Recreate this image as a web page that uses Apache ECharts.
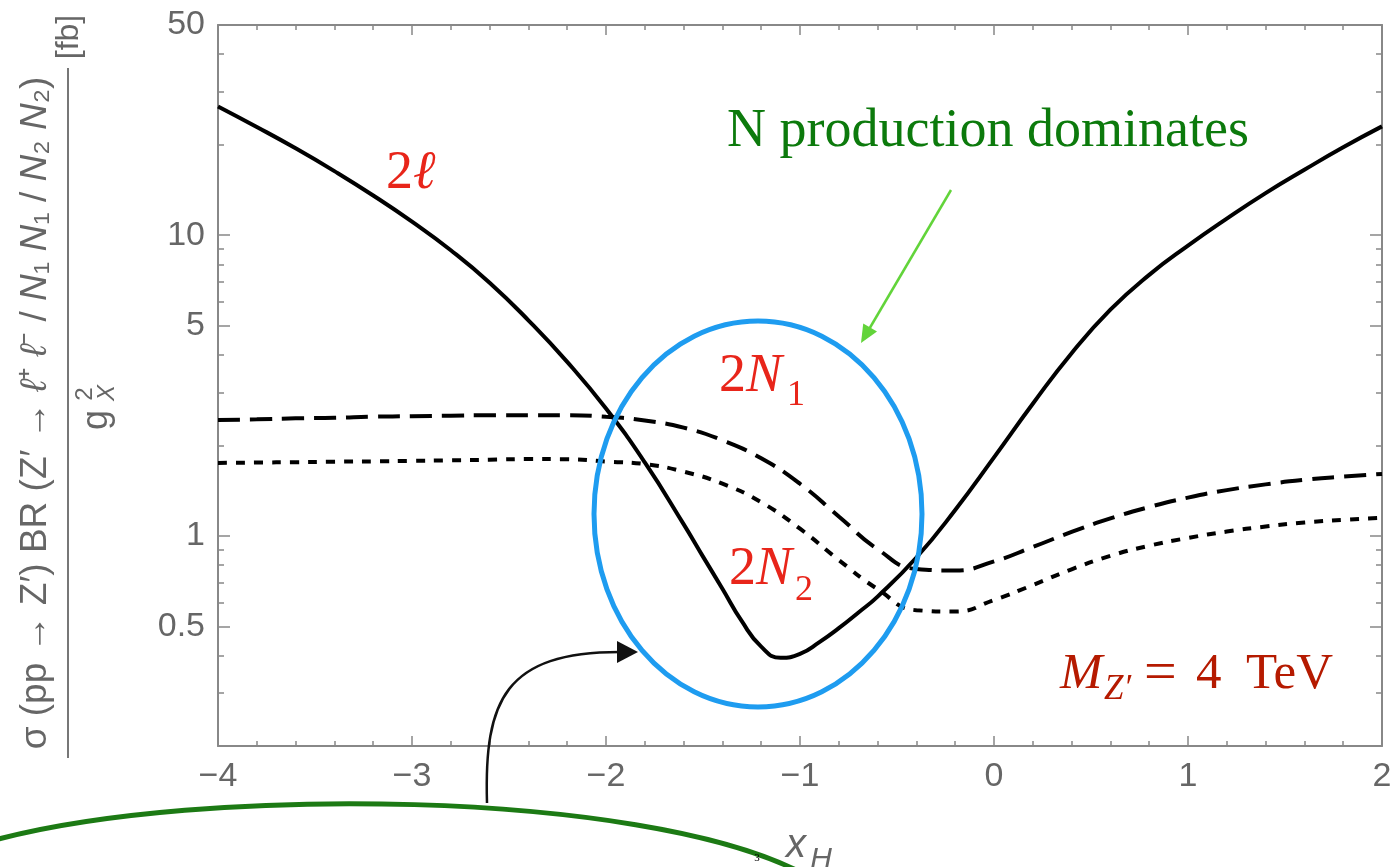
<!DOCTYPE html>
<html><head><meta charset="utf-8">
<script src="https://cdn.jsdelivr.net/npm/echarts@6/dist/echarts.min.js"></script>
<style>html,body{margin:0;padding:0;background:#fff}#c{width:1395px;height:867px}</style>
</head><body><div id="c"></div>
<script>
// ---- data ----
const xSolid = [-4, -3.8, -3.6, -3.4, -3.2, -3.0, -2.8, -2.6, -2.4, -2.2, -2.0, -1.8, -1.6, -1.5, -1.4, -1.3, -1.2, -1.1, -1.0, -0.9, -0.8, -0.7, -0.6, -0.4, -0.2, 0, 0.2, 0.4, 0.6, 0.8, 1.0, 1.2, 1.4, 1.6, 1.8, 2.0];
const ySolid = [26.8, 22.9, 19.45, 16.33, 13.55, 11.09, 8.91, 6.95, 5.21, 3.79, 2.65, 1.754, 1.094, 0.853, 0.667, 0.520, 0.428, 0.393, 0.405, 0.443, 0.493, 0.555, 0.628, 0.847, 1.219, 1.824, 2.75, 4.05, 5.65, 7.38, 9.23, 11.35, 13.8, 16.5, 19.6, 23.0];
const xGrid = [-4, -3.8, -3.6, -3.4, -3.2, -3.0, -2.8, -2.6, -2.4, -2.2, -2.0, -1.8, -1.6, -1.4, -1.2, -1.0, -0.8, -0.6, -0.4, -0.2, 0, 0.2, 0.4, 0.6, 0.8, 1.0, 1.2, 1.4, 1.6, 1.8, 2.0];
const yDashed = [2.43, 2.44, 2.46, 2.47, 2.49, 2.50, 2.51, 2.52, 2.52, 2.52, 2.49, 2.42, 2.29, 2.08, 1.81, 1.49, 1.16, 0.903, 0.776, 0.767, 0.822, 0.918, 1.030, 1.143, 1.247, 1.340, 1.419, 1.483, 1.535, 1.574, 1.607];
const yDotted = [1.748, 1.753, 1.758, 1.764, 1.769, 1.775, 1.783, 1.791, 1.80, 1.798, 1.767, 1.732, 1.635, 1.491, 1.293, 1.056, 0.831, 0.665, 0.566, 0.560, 0.612, 0.686, 0.774, 0.858, 0.927, 0.984, 1.033, 1.074, 1.107, 1.130, 1.148];

const xMin = -4, xMax = 2, xStep = 1;
const yMin = 0.2, yMax = 50;
const yLabelValues = [0.5, 1, 5, 10, 50];
const yMajorTicks = [0.5, 1, 5, 10];
const yMinorTicks = [0.3, 0.4, 0.6, 0.7, 0.8, 0.9, 2, 3, 4, 6, 7, 8, 9, 20, 30, 40];

const zip = (xs, ys) => xs.map((x, i) => [x, ys[i]]);

const GRAY = '#888';
const LBL = '#666';
const SANS = '"Liberation Sans", Arial, sans-serif';
const SERIF = '"Liberation Serif", "Times New Roman", serif';
const RED = '#e8251a';
const DRED = '#b51a00';

function xAxisDef(pos, labels) {
  return {
    type: 'value', min: xMin, max: xMax, interval: xStep, position: pos,
    axisLine: { show: true, onZero: false, lineStyle: { color: GRAY, width: 2 } },
    axisTick: { show: true, inside: true, length: 10, lineStyle: { color: GRAY, width: 1.5 } },
    minorTick: { show: true, splitNumber: 5, length: 5, lineStyle: { color: GRAY, width: 1.5 } },
    splitLine: { show: false }, minorSplitLine: { show: false },
    axisLabel: {
      show: labels, color: LBL, fontSize: 34, fontFamily: SANS, margin: 14,
      formatter: v => (v < 0 ? '\u2212' + Math.abs(v) : String(v))
    }
  };
}
function yAxisDef(pos, ticks, len, labels, line) {
  return {
    type: 'log', logBase: 10, min: yMin, max: yMax, position: pos,
    axisLine: { show: line, onZero: false, lineStyle: { color: GRAY, width: 2 } },
    axisTick: { show: true, inside: true, length: len, customValues: ticks, lineStyle: { color: GRAY, width: 1.5 } },
    splitLine: { show: false },
    axisLabel: labels ? { show: true, customValues: yLabelValues, color: LBL, fontSize: 34, fontFamily: SANS, margin: 13 } : { show: false }
  };
}

function arrowHead(x1, y1, x2, y2, len, half, color) {
  const dx = x2 - x1, dy = y2 - y1, L = Math.hypot(dx, dy);
  const ux = dx / L, uy = dy / L, px = -uy, py = ux;
  const bx = x2 - ux * len, by = y2 - uy * len;
  return { type: 'polygon', z: 20, shape: { points: [[x2, y2], [bx + px * half, by + py * half], [bx - px * half, by - py * half]] }, style: { fill: color } };
}
function txt(x, y, text, size, family, color, italic, align, rotation) {
  const o = { type: 'text', z: 20, x, y, style: { text, fontSize: size, fontFamily: family, fill: color, fontStyle: italic ? 'italic' : 'normal', align: align || 'left', verticalAlign: 'middle' } };
  if (rotation) o.rotation = rotation;
  return o;
}
const richRed = { r: { fontSize: 54, fontFamily: SERIF, fill: RED }, i: { fontSize: 54, fontFamily: SERIF, fontStyle: 'italic', fill: RED } };

const rot = Math.PI / 2;
const graphics = [
  // hand-drawn annotations
  { type: 'ellipse', z: 15, shape: { cx: 758, cy: 514, rx: 164, ry: 193 }, style: { fill: 'rgba(0,0,0,0)', stroke: '#1e9cf0', lineWidth: 5 } },
  { type: 'line', z: 15, shape: { x1: 951, y1: 190, x2: 868, y2: 331 }, style: { stroke: '#62d43a', lineWidth: 2.5 } },
  arrowHead(951, 190, 861, 343, 18, 8, '#62d43a'),
  { type: 'bezierCurve', z: 15, shape: { x1: 487, y1: 803, cpx1: 484, cpy1: 700, cpx2: 505, cpy2: 652, x2: 620, y2: 652 }, style: { stroke: '#111', lineWidth: 2.5, fill: 'rgba(0,0,0,0)' } },
  arrowHead(600, 652, 638, 652, 21, 11, '#111'),
  { type: 'bezierCurve', z: 15, shape: { x1: -5, y1: 840, cpx1: 200, cpy1: 785, cpx2: 640, cpy2: 790, x2: 800, y2: 872 }, style: { stroke: '#1c7a14', lineWidth: 5, fill: 'rgba(0,0,0,0)' } },
  txt(757, 858, '3', 11, SERIF, '#000', false, 'center'),

  // curve labels
  { type: 'text', z: 20, x: 386, y: 174, style: { text: '{r|2}{i|\u2113}', align: 'left', verticalAlign: 'middle', rich: richRed } },
  { type: 'text', z: 20, x: 719, y: 377, style: { text: '{r|2}{i|N}', align: 'left', verticalAlign: 'middle', rich: richRed } },
  txt(787, 396, '1', 36, SERIF, RED, false),
  { type: 'text', z: 20, x: 729, y: 570, style: { text: '{r|2}{i|N}', align: 'left', verticalAlign: 'middle', rich: richRed } },
  txt(795, 591, '2', 36, SERIF, RED, false),

  txt(727, 132, 'N production dominates', 54, SERIF, '#0c7a0c', false),

  txt(1060, 675, 'M', 51, SERIF, DRED, true),
  txt(1104, 690, 'Z\u2032', 35, SERIF, DRED, true),
  txt(1144, 675, '=', 58, SERIF, DRED, false),
  txt(1196, 675, '4', 51, SERIF, DRED, false),
  txt(1246, 675, 'TeV', 51, SERIF, DRED, false),

  // x-axis title
  txt(796, 846, 'x', 40, SANS, LBL, true, 'center'),
  txt(821, 860, 'H', 30, SANS, LBL, true, 'center'),

  // y-axis title (rotated fraction)
  { type: 'text', z: 20, x: 36, y: 413, rotation: rot, style: {
      text: '{n|\u03c3 (pp \u2192 Z\u2032) BR (Z\u2032 \u2192 }{i|\u2113}{n|\u207a }{i|\u2113}{n|\u207b / }{i|N}{n|\u2081 }{i|N}{n|\u2081 / }{i|N}{n|\u2082 }{i|N}{n|\u2082)}',
      align: 'center', verticalAlign: 'middle',
      rich: { n: { fontSize: 37, fontFamily: SANS, fill: LBL }, i: { fontSize: 37, fontFamily: SANS, fontStyle: 'italic', fill: LBL } } } },
  { type: 'line', z: 20, shape: { x1: 68, y1: 68, x2: 68, y2: 758 }, style: { stroke: '#777', lineWidth: 2 } },
  txt(69, 37, '[fb]', 32, SANS, LBL, false, 'center', rot),
  txt(97, 420, 'g', 36, SANS, LBL, false, 'center', rot),
  txt(85, 394, '2', 24, SANS, LBL, false, 'center', rot),
  txt(107, 393, 'X', 24, SANS, LBL, true, 'center', rot)
];

const chart = echarts.init(document.getElementById('c'), null, { renderer: 'canvas' });
chart.setOption({
  backgroundColor: '#fff',
  animation: false,
  grid: { left: 218, right: 13, top: 25, bottom: 121, containLabel: false },
  xAxis: [xAxisDef('bottom', true), xAxisDef('top', false)],
  yAxis: [
    yAxisDef('left', yMajorTicks, 12, true, true),
    yAxisDef('left', yMinorTicks, 6, false, false),
    yAxisDef('right', yMajorTicks, 12, false, true),
    yAxisDef('right', yMinorTicks, 6, false, false)
  ],
  series: [
    { name: '2l', type: 'line', xAxisIndex: 0, yAxisIndex: 0, data: zip(xSolid, ySolid), showSymbol: false, smooth: 0.5, lineStyle: { color: '#000', width: 4 }, z: 5 },
    { name: '2N1', type: 'line', xAxisIndex: 0, yAxisIndex: 0, data: zip(xGrid, yDashed), showSymbol: false, smooth: 0.5, lineStyle: { color: '#000', width: 4, type: [22, 10] }, z: 5 },
    { name: '2N2', type: 'line', xAxisIndex: 0, yAxisIndex: 0, data: zip(xGrid, yDotted), showSymbol: false, smooth: 0.5, lineStyle: { color: '#000', width: 4, type: [9, 9] }, z: 5 }
  ],
  graphic: graphics
});
</script></body></html>
